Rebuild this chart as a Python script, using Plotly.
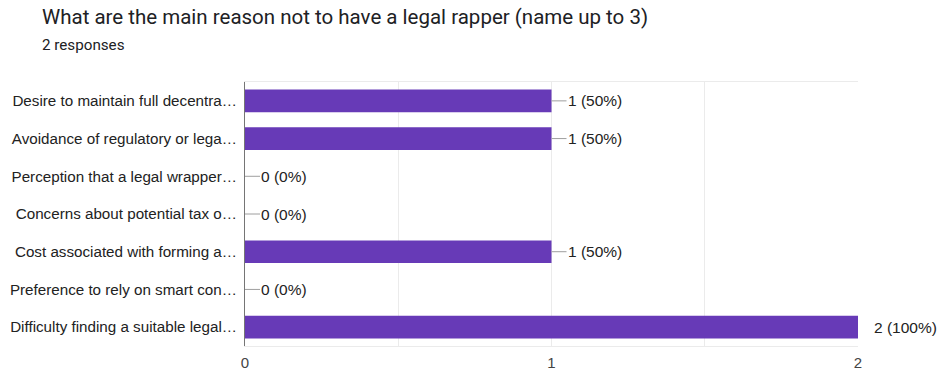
import plotly.graph_objects as go

title = "What are the main reason not to have a legal rapper (name up to 3)"
subtitle = "2 responses"
categories = [
    "Desire to maintain full decentra…",
    "Avoidance of regulatory or lega…",
    "Perception that a legal wrapper…",
    "Concerns about potential tax o…",
    "Cost associated with forming a…",
    "Preference to rely on smart con…",
    "Difficulty finding a suitable legal…",
]
counts = [1, 1, 0, 0, 1, 0, 2]
total_responses = 2
tick_vals = [0, 1, 2]
tick_text = ["0", "1", "2"]

W, H = 938, 371
L, R, T, B = 245, 80, 82, 25
PURPLE = "#673ab7"
FONT = "Arial, Liberation Sans, sans-serif"

fig = go.Figure(go.Bar(
    x=counts, y=categories, orientation="h",
    marker=dict(color=PURPLE, line=dict(width=0)),
    width=0.6, hoverinfo="skip",
))

xmax = max(counts)
for c, v in zip(categories, counts):
    pct = round(100 * v / total_responses)
    if v < xmax:
        fig.add_shape(type="line", xref="x", yref="y", xsizemode="pixel",
                      xanchor=v, x0=0, x1=15, y0=c, y1=c,
                      line=dict(color="#9e9e9e", width=1))
    fig.add_annotation(x=v, y=c, xref="x", yref="y", text=f"{v} ({pct}%)",
                       showarrow=False, xanchor="left", xshift=14,
                       font=dict(size=15.5, color="#222222", family=FONT))

plot_w = W - L - R
plot_h = H - T - B
fig.add_annotation(xref="paper", yref="paper", x=(40 - L) / plot_w, y=(plot_h + (T - 17)) / plot_h,
                   text=title, showarrow=False, xanchor="left", yanchor="middle",
                   font=dict(size=20.5, color="#202124", family="Roboto, Arial, sans-serif"))
fig.add_annotation(xref="paper", yref="paper", x=(40 - L) / plot_w, y=(plot_h + (T - 45)) / plot_h,
                   text=subtitle, showarrow=False, xanchor="left", yanchor="middle",
                   font=dict(size=15.2, color="#202124", family="Roboto, Arial, sans-serif"))

fig.update_layout(
    width=W, height=H,
    margin=dict(l=L, r=R, t=T, b=B, autoexpand=False),
    paper_bgcolor="white", plot_bgcolor="white",
    showlegend=False,
    xaxis=dict(range=[0, 2], tickvals=tick_vals, ticktext=tick_text, automargin=False,
               showgrid=True, gridcolor="#ebebeb", gridwidth=1,
               minor=dict(dtick=0.5, showgrid=True, gridcolor="#ebebeb"),
               showline=True, mirror=True, linecolor="#ebebeb", linewidth=1,
               zeroline=False, ticks="outside", ticklen=3, tickcolor="rgba(0,0,0,0)",
               tickfont=dict(size=15, color="#444444", family=FONT), fixedrange=True),
    yaxis=dict(autorange="reversed", showline=True, linecolor="#757575", linewidth=1,
               automargin=False,
               showgrid=False, zeroline=False, ticks="outside", ticklen=4,
               tickcolor="rgba(0,0,0,0)",
               tickfont=dict(size=15.2, color="#222222", family=FONT), fixedrange=True),
)

fig.write_html("out.html")
